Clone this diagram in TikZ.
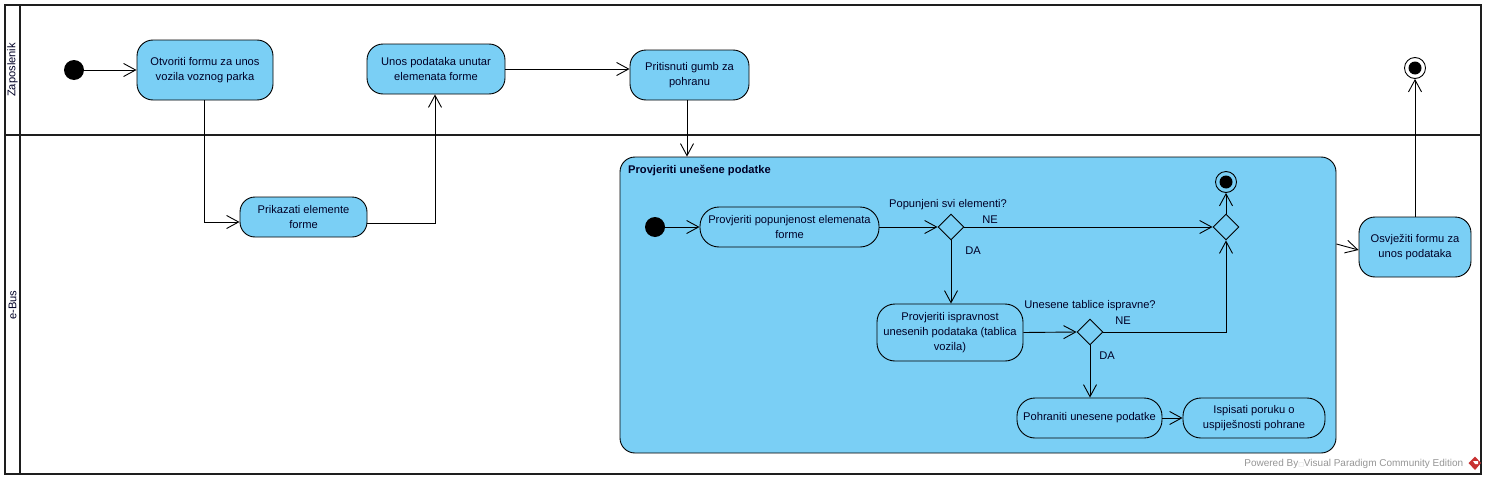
\documentclass[tikz,border=0pt]{standalone}
\usepackage{fontspec}
\setmainfont{Liberation Sans}
\newfontfamily\boxfont{DejaVu Sans}
\usetikzlibrary{arrows.meta,shapes.geometric}
\definecolor{actfill}{RGB}{122,207,245}
\definecolor{lanecol}{RGB}{30,30,30}
\definecolor{vpgray}{RGB}{150,150,150}
\definecolor{vpred}{RGB}{200,50,50}
\tikzset{
  x=1pt,y=-1pt,
  actbox/.style={draw=black,fill=actfill,line width=0.9pt,rounded corners=16pt,inner sep=0pt,align=center,font=\fontsize{11.15}{15}\selectfont,text=black!85!blue,execute at begin node={\vspace*{3pt}}},
  branch/.style={draw=black,fill=actfill,diamond,aspect=1,inner sep=0pt,line width=0.9pt,minimum width=26pt,minimum height=26pt},
  startdot/.style={circle,fill=black,inner sep=0pt,minimum size=20pt},
  finalring/.style={circle,draw=black,line width=0.9pt,inner sep=0pt,minimum size=21pt},
  flow/.style={line width=0.9pt,-{Straight Barb[length=12pt,width=13pt,line width=0.9pt]}},
  lane/.style={draw=lanecol,line width=2pt},
  lbl/.style={inner sep=0pt,font=\fontsize{11.15}{13}\selectfont,text=black!85!blue},
}
\begin{document}
\begin{tikzpicture}
\useasboundingbox (0,0) rectangle (1486,479);
\fill[white] (0,0) rectangle (1486,479);
% lanes
\draw[lane] (4.5,4.5) rectangle (1480.5,474);
\draw[lane] (19.5,4.5) -- (19.5,474);
\draw[lane] (4.5,135) -- (1480.5,135);
\node[lbl,rotate=90] (laneA) at (12.5,70) {Zaposlenik};
\node[lbl,rotate=90] (laneB) at (12.5,305) {e-Bus};
% group
\node[actbox,rounded corners=15pt,minimum width=716pt,minimum height=296pt] (grp) at (978,305) {};
\node[lbl,anchor=west,font=\fontsize{11.15}{13}\selectfont\bfseries] (grpt) at (628,170.5) {Provjeriti unešene podatke};
% top lane
\node[startdot] (s1) at (74,70) {};
\node[actbox,minimum width=136pt,minimum height=60pt] (A) at (205,70) {Otvoriti formu za unos\\vozila voznog parka};
\node[actbox,minimum width=138pt,minimum height=50pt] (B) at (436,69) {Unos podataka unutar\\elemenata forme};
\node[actbox,minimum width=119pt,minimum height=50pt] (C) at (689.5,75) {Pritisnuti gumb za\\pohranu};
\node[finalring] (f1) at (1415,68) {};
\node[startdot,minimum size=13pt] (f1i) at (f1) {};
% second lane
\node[actbox,rounded corners=15pt,minimum width=127pt,minimum height=40pt] (D) at (303.5,217) {Prikazati elemente\\forme};
\node[actbox,minimum width=112pt,minimum height=60pt] (I) at (1415,247) {Osvježiti formu za\\unos podataka};
% inner
\node[startdot] (s2) at (655,227) {};
\node[actbox,minimum width=179pt,minimum height=40pt,rounded corners=19pt] (E) at (789.5,227) {Provjeriti popunjenost elemenata\\forme};
\node[branch] (d1) at (951,227) {};
\node[actbox,minimum width=146pt,minimum height=57pt,rounded corners=18pt] (F) at (950,332.5) {Provjeriti ispravnost\\unesenih podataka (tablica\\vozila)};
\node[branch] (d2) at (1090,332) {};
\node[branch] (d3) at (1226,227) {};
\node[finalring] (f2) at (1226,182) {};
\node[startdot,minimum size=13pt] (f2i) at (f2) {};
\node[actbox,minimum width=145pt,minimum height=40pt,rounded corners=18pt] (G) at (1089.5,418) {Pohraniti unesene podatke};
\node[actbox,minimum width=142pt,minimum height=40pt,rounded corners=18pt] (H) at (1254,418) {Ispisati poruku o\\uspiješnosti pohrane};
% labels
\node[lbl] (q1) at (948,204.5) {Popunjeni svi elementi?};
\node[lbl] (ne1) at (990,219.5) {NE};
\node[lbl] (da1) at (973,250.5) {DA};
\node[lbl] (q2) at (1090,305.5) {Unesene tablice ispravne?};
\node[lbl] (ne2) at (1123,320.5) {NE};
\node[lbl] (da2) at (1107,355.5) {DA};
% connectors
\draw[flow] (s1) -- (A.west);
\draw[flow] ([xshift=-1pt]A.south) |- ([yshift=-5pt]D.west);
\draw[flow] ([yshift=-6pt]D.east) -| ([xshift=-1pt]B.south);
\draw[flow] (B.east) -- (B.east -| C.west);
\draw[flow] ([xshift=-2.5pt]C.south) -- ([xshift=-2.5pt]C.south |- grp.north);
\draw[flow] (s2) -- (E.west);
\draw[flow] (E.east) -- (d1.west);
\draw[flow] (d1.east) -- (d3.west);
\draw[flow] (d1.south) -- (d1.south |- F.north);
\draw[flow] (F.east) -- (d2.west);
\draw[flow] (d2.south) -- (d2.south |- G.north);
\draw[flow] (d2.east) -| (d3.south);
\draw[flow] (G.east) -- (H.west);
\draw[flow] (d3.north) -- (f2.south);
\path (grp.east |- I.west) ++(0,-3) coordinate (gi);
\draw[flow] (gi) -- ([yshift=-3pt]I.west);
\draw[flow] (I.north) -- (f1.south);
% watermark
\node[lbl,anchor=east,text=vpgray,font=\fontsize{10}{12}\selectfont] (wm) at (1463.5,464) {Powered By{\boxfont\fontsize{6}{8}\selectfont\textcolor{vpgray!40}{□}}Visual Paradigm Community Edition};
\fill[vpred] (1475,456.5) coordinate (lg) -- (1481,463) -- (1475,470) -- (1468.5,463) -- cycle;
\fill[white] (1473,461) -- (1478,461) -- (1478,464) -- (1475,464) -- cycle;
\end{tikzpicture}
\end{document}
